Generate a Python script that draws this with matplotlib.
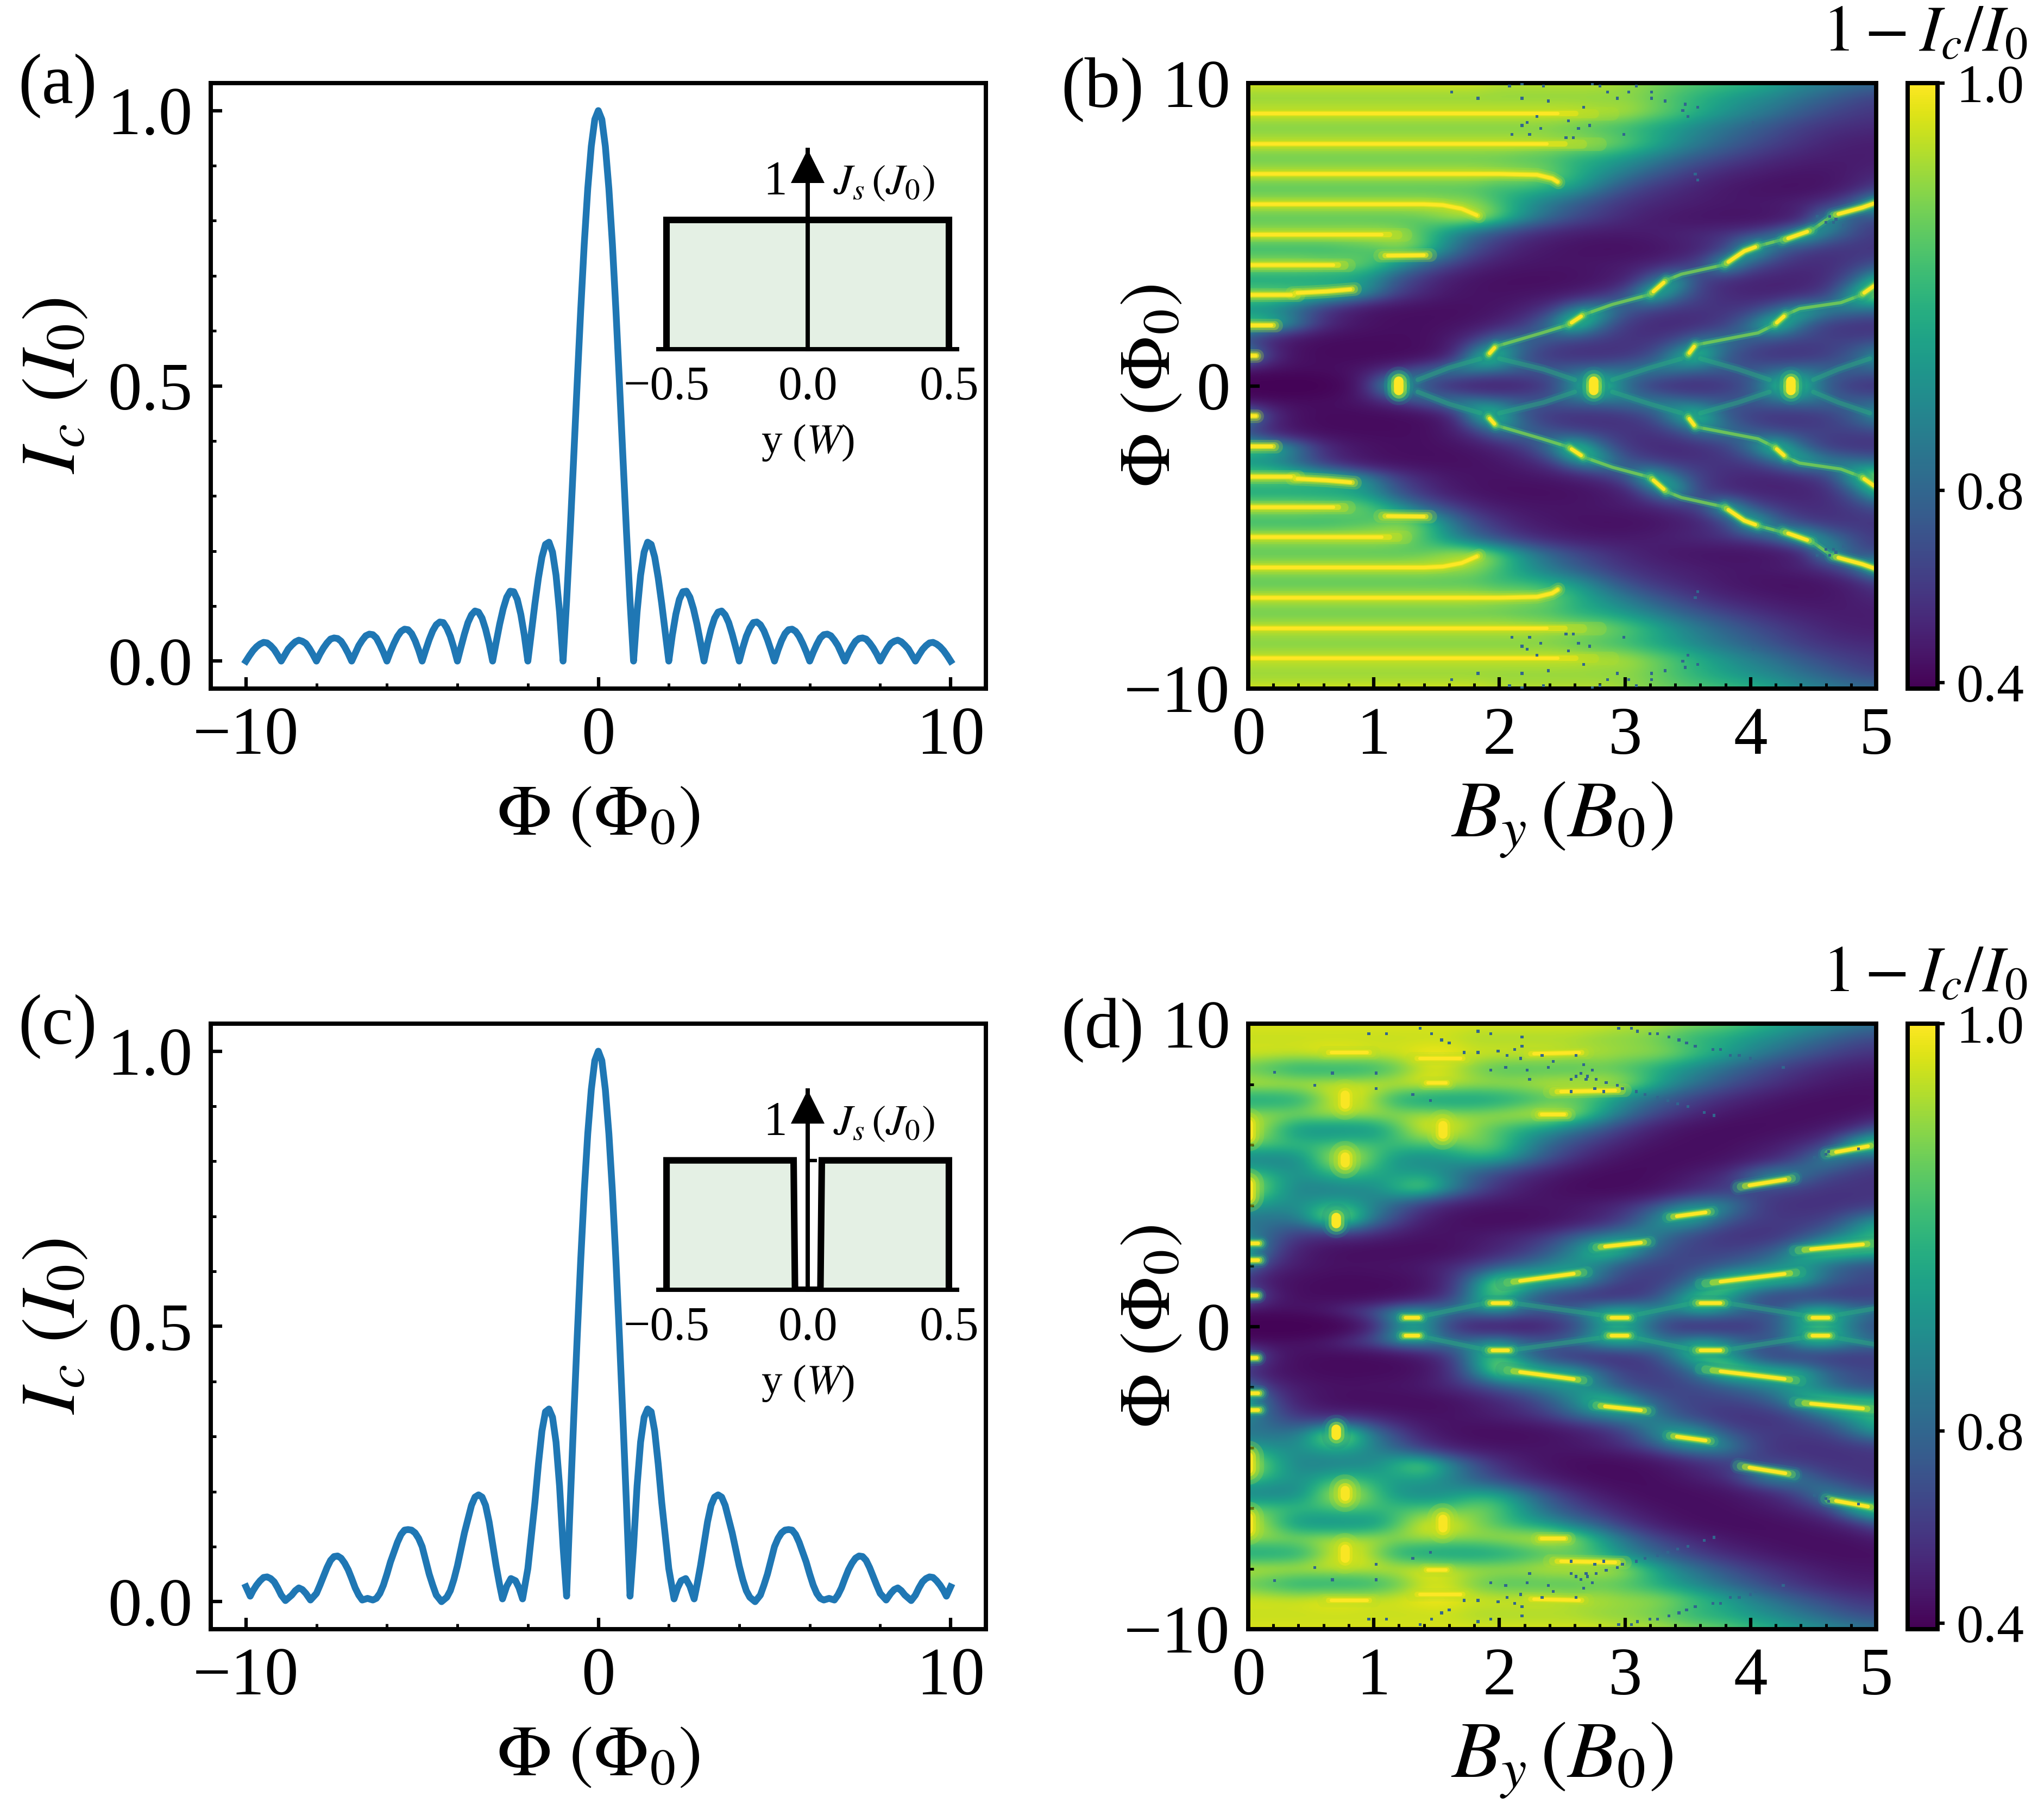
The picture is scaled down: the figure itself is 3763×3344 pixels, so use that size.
import numpy as np
import matplotlib
matplotlib.use("Agg")
import matplotlib.pyplot as plt
from matplotlib.colors import PowerNorm
from matplotlib.ticker import MultipleLocator

plt.rcParams['font.family'] = ['Liberation Serif', 'DejaVu Serif']
plt.rcParams['mathtext.fontset'] = 'stix'

# line cuts, positive side only (the curves are even in flux)
phi_a = [0, .1, .2, .3, .4, .5, .6, .7, .8, .9,
         1, 1.1, 1.2, 1.3, 1.4, 1.5, 1.6, 1.7, 1.8, 1.9,
         2, 2.1, 2.2, 2.3, 2.4, 2.5, 2.6, 2.7, 2.8, 2.9,
         3, 3.1, 3.2, 3.3, 3.4, 3.5, 3.6, 3.7, 3.8, 3.9,
         4, 4.1, 4.2, 4.3, 4.4, 4.5, 4.6, 4.7, 4.8, 4.9,
         5, 5.1, 5.2, 5.3, 5.4, 5.5, 5.6, 5.7, 5.8, 5.9,
         6, 6.1, 6.2, 6.3, 6.4, 6.5, 6.6, 6.7, 6.8, 6.9,
         7, 7.1, 7.2, 7.3, 7.4, 7.5, 7.6, 7.7, 7.8, 7.9,
         8, 8.1, 8.2, 8.3, 8.4, 8.5, 8.6, 8.7, 8.8, 8.9,
         9, 9.1, 9.2, 9.3, 9.4, 9.5, 9.6, 9.7, 9.8, 9.9, 10]
ic_a = [1.0, .984, .935, .858, .757, .637, .505, .368, .234, .109,
        0, .089, .156, .198, .216, .212, .189, .151, .104, .052,
        0, .047, .085, .112, .126, .127, .116, .095, .067, .034,
        0, .032, .058, .078, .089, .091, .084, .07, .049, .025,
        0, .024, .045, .06, .07, .071, .066, .055, .039, .02,
        0, .02, .037, .05, .057, .058, .054, .045, .032, .017,
        0, .016, .03, .042, .048, .049, .046, .038, .028, .014,
        0, .014, .026, .036, .041, .042, .04, .033, .024, .013,
        0, .012, .023, .032, .036, .038, .035, .029, .022, .011,
        0, .011, .021, .028, .033, .034, .031, .026, .019, .01, 0]

phi_c = [0, .1, .2, .3, .4, .5, .6, .7, .8, .9,
         1, 1.1, 1.2, 1.3, 1.4, 1.5, 1.6, 1.7, 1.8, 1.9, 2, 2.15,
         2.25, 2.35, 2.48, 2.6, 2.72,
         2.8, 2.9, 3, 3.1, 3.2, 3.3, 3.4, 3.5, 3.6, 3.7, 3.8, 3.9, 4, 4.1, 4.2, 4.3, 4.45,
         4.6, 4.7, 4.8, 4.9, 5, 5.1, 5.2, 5.3, 5.4, 5.5, 5.6, 5.7, 5.8, 5.9, 6, 6.1, 6.2, 6.3,
         6.4, 6.55, 6.7, 6.8, 6.9, 7, 7.1, 7.2, 7.3, 7.4, 7.5, 7.6, 7.7, 7.8, 7.9, 8, 8.17,
         8.3, 8.4, 8.5, 8.6, 8.7, 8.88, 9, 9.1, 9.2, 9.3, 9.4, 9.5, 9.6, 9.7, 9.8, 9.88, 10]
ic_c = [1.0, .983, .93, .85, .745, .62, .48, .33, .175, .01,
        .10, .21, .29, .335, .35, .345, .31, .25, .18, .12, .06, .005,
        .025, .038, .042, .028, .005,
        .03, .065, .105, .145, .175, .19, .194, .19, .175, .15, .125, .095, .065, .04, .02, .008, 0,
        .012, .03, .05, .075, .10, .115, .125, .13, .131, .13, .122, .108, .09, .072, .05, .03, .015, .006,
        .003, .006, .003, .012, .025, .042, .058, .07, .079, .083, .082, .075, .062, .046, .03, .015, .003,
        .015, .022, .025, .02, .012, .002, .012, .025, .036, .042, .045, .044, .038, .03, .02, .01, .027]

# current profile of the insets
y_a = [-.5, -.5, .5, .5]
js_a = [0, 1, 1, 0]
y_c = [-.5, -.5, -.05, -.045, .045, .05, .5, .5]
js_c = [0, 1, 1, 0, 0, 1, 1, 0]

# maps, 1 - Ic/I0 in percent, rows phi = 10, 9.5 ... 0, columns By = 0, 0.2 ... 5
by_step = 0.2
phi_step = 0.5
map_b = [
    [99,99,99,99,99,99,99,99,99,99,98,98,98,98,98,97,96,95,94,93,92,90,87,85,83,82],
    [96,96,96,96,96,96,96,96,96,96,96,96,96,96,96,96,95,93,91,89,87,85,82,79,75,72],
    [99,99,99,99,99,99,99,99,99,99,99,99,99,99,98,98,96,94,91,88,85,82,78,74,71,69],
    [95,95,95,95,95,95,95,95,95,95,95,95,95,94,93,92,90,88,85,82,79,75,71,68,66,65],
    [99,99,99,99,99,99,99,99,99,99,99,99,98,98,97,95,92,88,84,80,76,72,68,64,61,60],
    [94,94,94,94,94,94,94,94,94,94,94,93,93,91,90,88,85,81,77,73,69,65,62,60,59,60],
    [99,99,99,99,99,99,99,99,99,99,98,98,96,92,88,84,79,74,69,64,61,58,56,56,60,64],
    [93,93,93,93,93,93,93,93,93,93,92,92,91,89,83,76,70,66,62,58,55,53,53,56,62,72],
    [99,99,99,99,99,99,99,99,98,97,93,88,83,78,73,68,65,62,60,58,58,60,64,70,82,99],
    [93,93,93,93,93,93,93,94,97,99,95,88,81,75,70,65,60,57,55,54,54,56,62,93,78,72],
    [99,99,99,99,99,99,98,93,87,80,74,68,63,60,58,58,60,63,66,70,75,85,100,85,76,70],
    [91,91,91,91,92,93,96,95,86,76,68,61,57,54,52,52,54,58,63,72,98,82,72,68,68,68],
    [99,99,99,98,97,94,89,81,74,66,60,57,56,56,58,60,63,68,75,100,78,70,66,66,70,76],
    [88,88,88,88,88,86,76,68,60,55,52,51,51,53,56,62,80,95,72,65,63,62,62,66,78,96],
    [98,98,97,96,94,85,73,65,58,55,54,56,58,62,68,78,99,84,72,66,63,63,66,72,92,100],
    [85,84,78,68,60,54,52,51,51,53,57,63,72,90,93,78,72,68,68,68,72,82,95,88,84,82],
    [98,96,86,70,60,55,52,52,54,58,64,72,85,100,83,70,65,64,66,72,85,100,82,70,67,66],
    [70,60,54,50,49,49,50,52,60,72,86,82,76,72,70,68,68,74,85,84,78,74,72,72,72,74],
    [96,70,54,49,48,48,49,52,62,92,96,76,68,66,66,68,74,90,98,78,70,67,67,70,78,90],
    [60,55,52,52,55,64,74,83,89,87,83,79,79,82,84,85,87,84,80,78,78,82,85,82,80,80],
    [30,30,30,36,50,80,100,75,62,58,58,62,70,90,100,82,68,64,64,68,76,96,98,78,68,66],
]
map_d = [
    [99,99,99,99,99,99,99,99,99,99,99,99,99,99,99,98,98,97,96,95,93,91,89,87,85,83],
    [98,98,98,98,98,98,98,98,98,97,97,97,97,97,96,96,95,93,91,90,88,86,83,80,76,74],
    [99,99,99,100,100,99,99,100,100,99,99,99,99,98,98,97,97,96,93,90,86,82,78,74,70,68],
    [94,92,90,90,90,91,94,98,98,95,93,93,93,93,94,93,91,88,85,81,77,72,68,64,61,60],
    [99,99,99,99,99,99,99,100,99,98,98,98,99,99,99,98,93,87,82,77,72,68,63,59,56,55],
    [89,89,90,96,100,96,90,88,88,88,89,91,93,93,91,86,81,76,71,66,62,57,54,52,51,52],
    [97,97,97,98,98,98,97,98,97,97,98,99,100,98,91,84,76,70,64,58,54,52,51,52,54,60],
    [100,94,87,86,86,87,94,99,100,96,93,90,88,83,78,70,63,56,52,50,50,52,55,60,68,80],
    [95,94,93,93,95,93,93,94,94,96,94,88,80,74,68,62,56,52,51,52,56,60,66,74,96,100],
    [84,84,86,96,100,94,87,85,87,90,90,84,76,68,60,54,50,50,52,55,60,66,76,88,80,74],
    [95,91,87,90,93,90,89,90,85,78,72,66,60,54,50,49,51,56,62,68,84,92,84,74,70,68],
    [100,92,85,84,84,86,93,97,88,78,68,60,54,50,49,50,54,60,66,70,72,72,70,68,68,68],
    [90,87,87,91,91,85,78,70,63,58,56,55,56,58,62,68,76,86,90,88,76,68,67,67,68,70],
    [82,82,84,98,99,84,74,62,54,50,49,50,53,58,64,72,84,92,90,78,72,70,70,72,82,90],
    [86,78,70,68,70,66,60,55,55,58,62,66,72,80,84,87,86,78,72,68,67,68,74,82,88,92],
    [94,76,62,54,50,49,49,50,52,58,64,70,78,86,96,94,82,74,72,72,74,80,92,98,98,96],
    [88,68,60,56,55,56,57,60,66,72,78,82,86,88,84,76,72,72,74,78,82,86,88,82,76,74],
    [64,56,52,49,48,49,50,56,68,86,99,98,94,94,82,72,70,74,86,98,98,96,94,82,76,74],
    [92,64,52,49,48,49,52,58,70,88,94,82,72,66,64,66,72,86,94,90,78,70,68,68,68,70],
    [56,54,56,62,72,80,93,92,84,86,92,82,80,84,94,96,90,86,94,88,80,78,94,97,88,84],
    [30,30,30,33,44,64,86,88,70,58,56,57,62,72,86,90,78,66,62,64,68,78,88,92,82,72],
]

# crisp ridges on top of the coarse maps, (By, phi) pairs, mirrored in phi
# stripes run over the bright part of the map, ridges over the dark part
stripes_b = [[(0, 9), (2.9, 9)], [(0, 8), (2.8, 8)], [(0, 7), (2.0, 7), (2.3, 6.97), (2.42, 6.85), (2.47, 6.72)],
             [(0, 6), (1.4, 6), (1.55, 5.97), (1.7, 5.85), (1.84, 5.6)], [(0, 5), (1.25, 5)], [(1.05, 4.3), (1.45, 4.32)],
             [(0, 4), (.8, 4)], [(0, 3), (.4, 3)], [(.35, 3.06), (.62, 3.12), (.85, 3.2)],
             [(0, 2), (.22, 2)], [(0, 1), (.07, 1)]]
ridges_b = [[(1.91, 1.02), (1.97, 1.3)], [(2.55, 2.02), (2.67, 2.35)], [(3.2, 3.02), (3.33, 3.49)],
            [(3.79, 4.0), (3.95, 4.45), (4.06, 4.62)], [(4.25, 4.8), (4.49, 5.15)],
            [(4.65, 5.62), (4.89, 5.89), (5, 6.05)], [(3.5, 1.02), (3.56, 1.35)],
            [(4.19, 2.02), (4.28, 2.35)], [(4.88, 3.0), (5, 3.35)]]
spots_b = [[(1.2, 0), (1.2, .15)], [(2.75, 0), (2.75, .15)], [(4.32, 0), (4.32, .15)]]
bright_spots_b = []
thin_b = [[(1.97, 1.3), (2.34, 1.75), (2.55, 2.02)], [(2.67, 2.35), (2.9, 2.69), (3.2, 3.02)],
          [(3.33, 3.49), (3.45, 3.69), (3.79, 4)], [(4.06, 4.62), (4.36, 4.95), (4.49, 5.15), (4.65, 5.62)],
          [(3.56, 1.35), (4.06, 1.75), (4.19, 2.02)], [(4.28, 2.35), (4.39, 2.55), (4.72, 2.75), (4.88, 3)]]
teal_b = [[(1.35, .2), (1.6, .6), (1.85, .9)], [(2.6, .2), (2.35, .55), (2.0, .9)],
          [(2.9, .2), (3.2, .6), (3.45, .9)], [(4.15, .2), (3.9, .55), (3.6, .9)],
          [(4.5, .2), (4.7, .55), (4.95, .9)]]

stripes_d = [[(.6, 9.05), (1, 9.05)], [(1.3, 8.85), (1.75, 8.85)], [(1.4, 8.05), (1.6, 8.05)],
             [(2.4, 7.75), (3, 7.8)], [(2.2, 9), (2.7, 9.05)], [(2.3, 7), (2.55, 7)]]
ridges_d = [[(2.03, 1.43), (2.7, 1.8)], [(2.75, 2.6), (3.2, 2.8)], [(3.34, 3.6), (3.7, 3.8)],
            [(3.9, 4.6), (4.35, 4.9)], [(4.6, 5.7), (5, 6)], [(3.6, 1.4), (4.4, 1.8)],
            [(4.35, 2.5), (5, 2.75)], [(1.22, .3), (1.38, .3)], [(2.85, .3), (3.05, .3)],
            [(4.45, .3), (4.65, .3)], [(1.9, .78), (2.1, .78)], [(3.55, .78), (3.8, .78)],
            [(0, 2.75), (.1, 2.75)], [(0, 2.2), (.1, 2.2)], [(0, 1.03), (.08, 1.03)]]
spots_d = [[(.7, 3.4), (.7, 3.6)]]
bright_spots_d = [[(.77, 5.4), (.77, 5.6)], [(.77, 7.35), (.77, 7.65)],
                  [(1.55, 6.35), (1.55, 6.65)], [(0, 6.3), (0, 6.7)], [(0, 4.3), (0, 4.7)]]
thin_d = []
teal_d = [[(1.4, .35), (1.9, .78)], [(2.1, .78), (2.85, .35)], [(3.05, .35), (3.55, .78)],
          [(3.8, .78), (4.45, .35)], [(4.65, .35), (5, .6)]]

# stray solver points on the maps (By, phi), the maps are mirrored so these are too
speck_by_b = [2.08,2.18,2.35,2.74,2.80,3.09,1.62,2.86,3.03,3.21,1.83,2.18,2.94,3.21,2.39,3.32,3.48,2.67,3.58,3.46,
              2.30,3.5,2.55,2.22,4.02,2.18,2.72,2.33,2.63,3.96,2.10,2.24,2.99,2.53,2.59,3.56,3.58,4.53,4.63,4.68,4.6,4.66,4.74]
speck_phi_b = [9.9,9.97,9.9,9.97,9.9,9.9,9.7,9.7,9.7,9.7,9.5,9.5,9.5,9.5,9.41,9.41,9.3,9.2,9.2,9.1,
               8.9,8.9,8.75,8.7,8.7,8.6,8.6,8.5,8.5,8.5,8.31,8.31,8.31,8.2,8.2,7.0,6.8,5.6,5.6,5.5,5.4,5.4,5.3]
speck_by_d = [2.95,3.05,3.1,3.2,3.26,3.35,3.43,3.49,3.56,3.7,3.76,3.84,3.91,4.0,4.04,4.26,
              1.37,1.83,1.93,1.46,.96,1.1,1.54,1.6,2.18,2.18,2.12,1.99,1.72,1.83,2.06,2.17,2.34,2.61,2.43,2.67,
              2.05,2.22,2.39,2.74,1.93,2.65,2.61,2.7,2.24,2.57,2.69,2.77,2.85,2.94,2.98,2.57,2.76,2.83,3.09,3.16,
              3.26,3.34,3.42,3.5,3.63,3.71,1.31,1.45,.21,.67,1.02,.53,1.02,4.6,4.62,4.86,4.51]
speck_phi_d = [9.85,9.85,9.75,9.67,9.67,9.56,9.46,9.36,9.26,9.15,9.15,8.95,8.95,8.85,8.75,8.55,
               9.85,9.75,9.67,9.67,9.67,9.67,9.46,9.36,9.56,9.26,9.15,9.1,9.05,9.05,8.95,8.85,8.95,8.95,8.75,8.65,
               8.55,8.46,8.55,8.46,8.46,8.36,8.26,8.26,8.16,8.16,8.16,8.16,8.06,7.96,7.86,7.76,7.86,7.76,7.76,7.66,
               7.56,7.46,7.36,7.26,7.07,6.97,7.66,7.46,8.39,8.37,8.37,7.96,7.86,5.68,5.77,5.87,5.58]
speck_value = 0.8

# stroke layers: width, colour, alpha, how much of each end to cut
glow_stripe = [(6, '#b5de2b', .25, 0), (4, '#c8e020', .4, .05), (2.4, '#e7e419', .7, .1), (1.5, '#fde725', 1, .15)]
glow_ridge = [(7, '#21918c', .22, 0), (5, '#35b779', .3, 0), (3.6, '#6ece58', .45, .05),
              (2.6, '#b5de2b', .65, .12), (1.6, '#fde725', 1, .2)]
glow_spot = [(13, '#21918c', .25, 0), (10, '#35b779', .4, 0), (7, '#90d743', .6, 0), (4.2, '#fde725', 1, 0)]
glow_bright_spot = [(14, '#b5de2b', .25, 0), (10, '#c8e020', .35, 0), (6.5, '#e7e419', .6, 0), (4, '#fde725', .9, 0)]
glow_thin = [(3.2, '#35b779', .35, 0), (1.4, '#7ad151', .8, 0)]
glow_teal = [(4, '#21918c', .3, 0), (2, '#2fb47c', .4, 0)]

W, H = 3763, 3344
fig = plt.figure(figsize=(W / 300, H / 300), dpi=300)
norm = PowerNorm(gamma=5, vmin=0, vmax=1)


def box(x0, y0, x1, y1):
    # pixels from top left to figure fractions
    return [x0 / W, 1 - y1 / H, (x1 - x0) / W, (y1 - y0) / H]


def style_spines(ax):
    for s in ax.spines.values():
        s.set_linewidth(1.9)


def draw_ridges(ax, segs, layers):
    for lw, col, alpha, cut in layers:
        for seg in segs:
            pts = np.array(seg, dtype=float)
            # pull the ends in, the bright core stops before the glow does
            if cut > 0:
                pts[0] = pts[0] + cut * (pts[1] - pts[0]) * (pts[0][0] > 0)
                pts[-1] = pts[-1] + cut * (pts[-2] - pts[-1])
            ax.plot(pts[:, 0], pts[:, 1], color=col, lw=lw, alpha=alpha, solid_capstyle='round')
            ax.plot(pts[:, 0], -pts[:, 1], color=col, lw=lw, alpha=alpha, solid_capstyle='round')


def line_panel(dy, phi, ic, y_prof, js_prof, label):
    ax = fig.add_axes(box(388, 153 + dy, 1815, 1268 + dy))
    ax.plot(np.concatenate((-np.array(phi)[::-1], phi[1:])),
            np.concatenate((np.array(ic)[::-1], ic[1:])), color='#1f77b4', lw=3)
    ax.set_xlim(-11, 11)
    ax.set_ylim(-0.05, 1.05)
    ax.set_xticks([-10, 0, 10])
    ax.set_yticks([0, 0.5, 1.0])
    ax.xaxis.set_minor_locator(MultipleLocator(2))
    ax.yaxis.set_minor_locator(MultipleLocator(0.1))
    ax.tick_params(which='major', direction='in', length=5, width=1.5, labelsize=30)
    ax.tick_params(which='minor', direction='in', length=2.5, width=1.2)
    ax.tick_params(axis='x', which='major', pad=8)
    ax.tick_params(axis='y', which='major', pad=8)
    ax.set_xlabel(r'$\Phi\ (\Phi_0)$', fontsize=32)
    ax.xaxis.set_label_coords(0.5, -0.212)
    ax.xaxis.label.set_va('center')
    ax.set_ylabel(r'$I_c\ (I_0)$', fontsize=34)
    ax.yaxis.set_label_coords(-0.2, 0.5)
    ax.yaxis.label.set_va('center')
    style_spines(ax)
    fig.text(33 / W, 1 - (158 + dy) / H, label, fontsize=31.5, va='center')

    # inset with the current profile
    ins = fig.add_axes(box(1212, 276 + dy, 1762, 643 + dy))
    ins.patch.set_alpha(0)
    ins.fill_between(y_prof, js_prof, color='#e4f0e4', lw=0)
    ins.plot(y_prof, js_prof, color='k', lw=2.9, solid_joinstyle='miter', solid_capstyle='butt')
    ins.set_xlim(-0.529, 0.529)
    ins.set_ylim(0, 1.54)
    ins.spines['top'].set_visible(False)
    ins.spines['right'].set_visible(False)
    ins.spines['left'].set_position(('data', 0))
    ins.spines['left'].set_linewidth(1.9)
    ins.spines['bottom'].set_linewidth(1.9)
    ins.plot([0], [1.416], marker='^', ms=15, color='k', mew=0, clip_on=False)
    ins.set_xticks([-0.5, 0, 0.5])
    ins.set_yticks([1])
    ins.set_yticklabels([])
    ins.tick_params(axis='x', length=0, pad=7, labelsize=21)
    ins.tick_params(axis='y', direction='in', length=4, width=1.5)
    ins.text(-0.073, 1.29, '1', fontsize=21, ha='right', va='center')
    ins.text(0.09, 1.28, r'$J_s\,(J_0)$', fontsize=19, va='center')
    ins.set_xlabel(r'y ($W$)', fontsize=18.5)
    ins.xaxis.set_label_coords(0.5, (643 - 815) / 367)
    ins.xaxis.label.set_va('center')


def map_panel(dy, rows, stripes, ridges, spots, bright_spots, thin, teal, speck_by, speck_phi, label):
    ax = fig.add_axes(box(2298, 153 + dy, 3454, 1268 + dy))
    top = np.array(rows) / 100
    grid = np.vstack((top, top[-2::-1]))
    im = ax.imshow(grid, cmap='viridis', norm=norm, aspect='auto', interpolation='bicubic',
                   interpolation_stage='data',
                   extent=[-by_step / 2, 5 + by_step / 2, -10 - phi_step / 2, 10 + phi_step / 2])
    draw_ridges(ax, teal, glow_teal)
    draw_ridges(ax, thin, glow_thin)
    draw_ridges(ax, stripes, glow_stripe)
    draw_ridges(ax, ridges, glow_ridge)
    draw_ridges(ax, spots, glow_spot)
    draw_ridges(ax, bright_spots, glow_bright_spot)
    ax.scatter(speck_by + speck_by, speck_phi + [-p for p in speck_phi], c=[speck_value] * (2 * len(speck_by)),
               cmap='viridis', norm=norm, marker='s', s=1.6, linewidths=0, zorder=4)
    ax.set_xlim(0, 5)
    ax.set_ylim(-10, 10)
    ax.set_xticks([0, 1, 2, 3, 4, 5])
    ax.set_yticks([-10, 0, 10])
    ax.xaxis.set_minor_locator(MultipleLocator(0.2))
    ax.yaxis.set_minor_locator(MultipleLocator(2))
    ax.tick_params(which='major', direction='in', length=5, width=1.5, labelsize=30)
    ax.tick_params(which='minor', direction='in', length=2.5, width=1.2)
    ax.tick_params(axis='x', which='major', pad=8)
    ax.tick_params(axis='y', which='major', pad=8)
    ax.set_xlabel(r'$B_y\,(B_0)$', fontsize=36)
    ax.xaxis.set_label_coords(0.5, -0.217)
    ax.xaxis.label.set_va('center')
    ax.set_ylabel(r'$\Phi\ (\Phi_0)$', fontsize=32)
    ax.yaxis.set_label_coords(-0.154, 0.5)
    ax.yaxis.label.set_va('center')
    style_spines(ax)
    fig.text(1953 / W, 1 - (165 + dy) / H, label, fontsize=31.5, va='center')

    cax = fig.add_axes(box(3512, 153 + dy, 3567, 1268 + dy))
    cb = fig.colorbar(im, cax=cax, ticks=[0.4, 0.8, 1.0])
    cb.ax.minorticks_off()
    cb.ax.tick_params(length=3.2, width=1.5, labelsize=24, pad=5)
    cb.outline.set_linewidth(1.9)
    fig.text(3732 / W, 1 - (64 + dy) / H, r'$1-I_c/I_0$', fontsize=29, ha='right', va='center')


line_panel(0, phi_a, ic_a, y_a, js_a, '(a)')
map_panel(0, map_b, stripes_b, ridges_b, spots_b, bright_spots_b, thin_b, teal_b, speck_by_b, speck_phi_b, '(b)')
line_panel(1732, phi_c, ic_c, y_c, js_c, '(c)')
map_panel(1732, map_d, stripes_d, ridges_d, spots_d, bright_spots_d, thin_d, teal_d, speck_by_d, speck_phi_d, '(d)')

fig.savefig('out.png', dpi=300)
